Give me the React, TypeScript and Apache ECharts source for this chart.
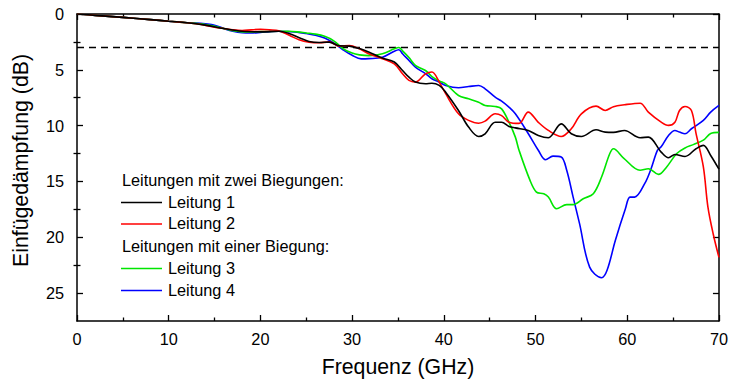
import React, { useEffect, useRef } from "react";
import * as echarts from "echarts";

// ---- data ----
const l1Freq = [0, 2, 5, 8, 10, 12, 14, 16, 18, 20, 22, 23.2, 24.3, 25.3, 26.4, 27.5, 28.6, 29.7, 30.8, 31.8, 33.3, 34.6, 35.5, 36.2, 36.9, 38, 38.7, 39.5, 40.2, 41.6, 42.7, 43.8, 44.5, 45.6, 46.3, 47.1, 47.8, 49.2, 50.3, 51.4, 52.8, 53.9, 55, 56.6, 57.6, 58.5, 59.7, 61.4, 62.3, 63.7, 64.5, 65.2, 66.3, 67.5, 68.3, 69.1, 70];
const l1Loss = [0, 0.12, 0.3, 0.5, 0.65, 0.78, 1.0, 1.3, 1.55, 1.6, 1.55, 1.77, 2.15, 2.46, 2.55, 2.52, 2.85, 2.88, 3.1, 3.4, 3.95, 4.3, 5.06, 5.66, 6.1, 6.25, 6.2, 6.4, 7.0, 8.64, 10.13, 10.97, 10.73, 9.69, 9.69, 10.07, 10.2, 10.43, 10.88, 11.08, 9.84, 10.73, 10.97, 10.37, 10.58, 10.6, 10.43, 11.08, 11.03, 12.37, 12.88, 12.58, 12.76, 12.07, 11.77, 12.67, 13.9];

const l2Freq = [0, 2, 5, 8, 10, 12, 13, 14, 15, 16, 17, 18, 19, 20, 21, 22, 23.2, 24.2, 25.3, 26.4, 27.5, 28.6, 29.7, 30.8, 31.8, 33.3, 34.6, 35.5, 36.2, 36.9, 38, 38.7, 39.5, 40.2, 41.6, 42.7, 43.8, 44.5, 45.6, 46.3, 47.1, 48.2, 49.2, 50.3, 51.4, 52.8, 53.9, 55, 56.6, 57.6, 58.5, 59.7, 61.4, 62.3, 63.7, 64.5, 65.2, 65.7, 66.3, 67, 67.5, 68.3, 68.8, 69.4, 70];
const l2Loss = [0, 0.12, 0.3, 0.5, 0.65, 0.78, 0.88, 1.02, 1.18, 1.3, 1.42, 1.48, 1.42, 1.38, 1.42, 1.5, 1.93, 2.3, 2.52, 2.58, 2.5, 2.88, 2.82, 3.12, 3.56, 4.0, 4.46, 5.36, 5.95, 6.1, 5.36, 5.2, 6.1, 7.14, 8.94, 9.53, 9.78, 9.6, 8.94, 9.1, 9.69, 9.8, 8.79, 9.7, 10.43, 10.97, 10.28, 8.94, 8.25, 8.64, 8.3, 8.13, 7.99, 8.79, 9.69, 9.98, 9.69, 8.64, 8.28, 8.64, 10.7, 13.7, 17.3, 19.8, 21.8];

const l3Freq = [0, 2, 5, 8, 10, 12, 14, 16, 17, 18, 19, 20, 22, 23, 24, 25, 26, 27, 28, 29, 30, 30.8, 31.8, 33.3, 34.6, 35.1, 35.5, 36.2, 36.9, 38, 38.7, 39.5, 40.2, 41.6, 42.7, 43.8, 44.5, 45.6, 46.3, 47.1, 47.8, 48.2, 49.4, 50.1, 50.9, 51.4, 52.3, 53.4, 54.1, 55.2, 56.3, 57.2, 58.1, 58.5, 59.6, 61.4, 62.3, 63.4, 64.3, 65.4, 66.3, 67.2, 68.3, 69.1, 70];
const l3Loss = [0, 0.12, 0.3, 0.5, 0.65, 0.78, 0.95, 1.3, 1.5, 1.6, 1.6, 1.58, 1.54, 1.55, 1.6, 1.7, 1.8, 2.0, 2.4, 3.1, 3.5, 3.66, 3.73, 3.56, 3.12, 3.0, 3.3, 3.9, 4.6, 5.06, 5.6, 6.0, 6.25, 7.3, 7.6, 7.9, 8.2, 8.28, 8.5, 9.69, 11.03, 12.2, 14.9, 15.95, 16.1, 16.4, 17.44, 17.08, 17.08, 16.55, 16.1, 14.6, 12.5, 12.07, 12.9, 14.0, 13.86, 14.37, 13.7, 12.5, 12.0, 11.7, 11.3, 10.7, 10.6];

const l4Freq = [0, 2, 5, 8, 10, 12, 13, 14, 15, 16, 17, 18, 19, 20, 21, 22, 23, 24, 25, 26, 27, 28, 29, 30, 31, 31.8, 33.3, 34.6, 35.1, 35.5, 36.2, 36.9, 38, 38.7, 39.5, 40.2, 41.6, 42.7, 43.8, 44.5, 45.6, 46.3, 47.1, 47.8, 49.2, 50.3, 51.1, 51.9, 52.8, 53.4, 54.1, 54.8, 55.9, 57.2, 57.8, 58.7, 59.8, 60.3, 60.8, 61.9, 62.6, 63.3, 63.7, 64.5, 65.2, 65.7, 66.3, 67, 68.3, 69.1, 70];
const l4Loss = [0, 0.12, 0.3, 0.5, 0.65, 0.78, 0.8, 0.88, 1.0, 1.3, 1.55, 1.68, 1.7, 1.65, 1.58, 1.54, 1.58, 1.62, 1.75, 1.9, 2.15, 2.6, 3.2, 3.7, 4.02, 4.0, 3.87, 3.33, 3.2, 3.56, 4.16, 4.76, 5.34, 5.8, 6.1, 6.4, 6.6, 6.5, 6.4, 6.7, 7.45, 7.8, 8.34, 8.94, 10.7, 12.2, 13.05, 12.73, 12.8, 14.0, 16.4, 18.78, 22.67, 23.62, 22.96, 20.28, 17.44, 16.4, 16.4, 15.2, 13.86, 12.2, 11.9, 10.88, 10.43, 10.58, 10.73, 10.28, 9.53, 8.79, 8.19];

const seriesNames = ["Leitung 1", "Leitung 2", "Leitung 3", "Leitung 4"];
const seriesColors = ["#000000", "#ff0000", "#00e600", "#0000ff"];
const groupHeaders = ["Leitungen mit zwei Biegungen:", "Leitungen mit einer Biegung:"];
const thresholdDb = 3;
const xTicks = [0, 10, 20, 30, 40, 50, 60, 70];
const yMajorTicks = [0, 5, 10, 15, 20, 25];
const yMinorTicks = [2.5, 7.5, 12.5, 17.5, 22.5];
const yMax = 27.5;
const xTitle = "Frequenz (GHz)";
const yTitle = "Einfügedämpfung (dB)";

const FONT = "'Liberation Sans', Arial, Helvetica, sans-serif";

function pairs(f: number[], v: number[]) {
  return f.map((x, i) => [x, v[i]]);
}

export default function App() {
  const ref = useRef<HTMLDivElement>(null);
  useEffect(() => {
    if (!ref.current) return;
    const chart = echarts.init(ref.current, null, { renderer: "svg" });
    const data = [pairs(l1Freq, l1Loss), pairs(l2Freq, l2Loss), pairs(l3Freq, l3Loss), pairs(l4Freq, l4Loss)];

    const baseX = {
      type: "value",
      min: xTicks[0],
      max: xTicks[xTicks.length - 1],
      interval: 10,
      splitLine: { show: false },
      axisLine: { show: true, onZero: false, lineStyle: { color: "#000", width: 1.5 } },
      axisTick: { show: true, inside: true, length: 6, lineStyle: { color: "#000", width: 1.3 } },
      minorTick: { show: true, splitNumber: 2, length: 3.5, lineStyle: { color: "#000", width: 1.3 } },
    };
    const baseY = {
      type: "value",
      min: 0,
      max: yMax,
      inverse: true,
      splitLine: { show: false },
    };
    const lineStyleAxis = { color: "#000", width: 1.5 };

    const legendItems: any[] = [];
    const rowY = [182, 203.5, 225, 247.5, 269.5, 291.5];
    legendItems.push({ type: "text", left: 122, top: rowY[0] - 10, style: { text: groupHeaders[0], font: `16.3px ${FONT}`, fill: "#000" } });
    legendItems.push({ type: "text", left: 122, top: rowY[3] - 10, style: { text: groupHeaders[1], font: `16.3px ${FONT}`, fill: "#000" } });
    const itemRows = [rowY[1], rowY[2], rowY[4], rowY[5]];
    seriesNames.forEach((name, i) => {
      legendItems.push({ type: "line", shape: { x1: 121, y1: itemRows[i] - 1, x2: 162, y2: itemRows[i] - 1 }, style: { stroke: seriesColors[i], lineWidth: 1.3 } });
      legendItems.push({ type: "text", left: 168, top: itemRows[i] - 10, style: { text: name, font: `16.3px ${FONT}`, fill: "#000" } });
    });

    chart.setOption({
      animation: false,
      backgroundColor: "#fff",
      textStyle: { fontFamily: FONT },
      grid: { left: 77, right: 10, top: 14, bottom: 61, containLabel: false },
      xAxis: [
        {
          ...baseX,
          position: "bottom",
          name: xTitle,
          nameLocation: "middle",
          nameGap: 35,
          nameTextStyle: { fontSize: 21.3, color: "#000", fontFamily: FONT },
          axisLabel: { show: true, margin: 10, fontSize: 16.3, color: "#000", fontFamily: FONT },
        },
        { ...baseX, position: "top", axisLabel: { show: false } },
      ],
      yAxis: [
        {
          ...baseY,
          position: "left",
          name: yTitle,
          nameLocation: "middle",
          nameGap: 46,
          nameRotate: 90,
          nameTextStyle: { fontSize: 21.3, color: "#000", fontFamily: FONT, padding: [0, 0, 0, 14] },
          axisLine: { show: true, onZero: false, lineStyle: lineStyleAxis },
          axisTick: { show: true, inside: true, length: 6, customValues: yMajorTicks, lineStyle: { color: "#000", width: 1.3 } },
          axisLabel: { show: true, margin: 13, fontSize: 16.3, color: "#000", fontFamily: FONT, customValues: yMajorTicks },
        },
        {
          ...baseY,
          position: "left",
          axisLine: { show: false },
          axisTick: { show: true, inside: true, length: 3.5, customValues: yMinorTicks, lineStyle: { color: "#000", width: 1.3 } },
          axisLabel: { show: false },
        },
        {
          ...baseY,
          position: "right",
          axisLine: { show: true, onZero: false, lineStyle: lineStyleAxis },
          axisTick: { show: true, inside: true, length: 6, customValues: yMajorTicks, lineStyle: { color: "#000", width: 1.3 } },
          axisLabel: { show: false },
        },
        {
          ...baseY,
          position: "right",
          axisLine: { show: false },
          axisTick: { show: true, inside: true, length: 3.5, customValues: yMinorTicks, lineStyle: { color: "#000", width: 1.3 } },
          axisLabel: { show: false },
        },
      ],
      series: data.map((d, i) => ({
        name: seriesNames[i],
        type: "line",
        xAxisIndex: 0,
        yAxisIndex: 0,
        data: d,
        smooth: 0.35,
        showSymbol: false,
        symbol: "none",
        z: 10 - i,
        lineStyle: { color: seriesColors[i], width: 1.6 },
        markLine:
          i === 0
            ? {
                silent: true,
                symbol: ["none", "none"],
                label: { show: false },
                lineStyle: { color: "#000", type: [7, 5], width: 1.3 },
                data: [{ yAxis: thresholdDb }],
              }
            : undefined,
      })),
      graphic: legendItems,
    });
    return () => chart.dispose();
  }, []);
  return <div ref={ref} style={{ position: "fixed", left: 0, top: 0, width: 731, height: 382 }} />;
}
